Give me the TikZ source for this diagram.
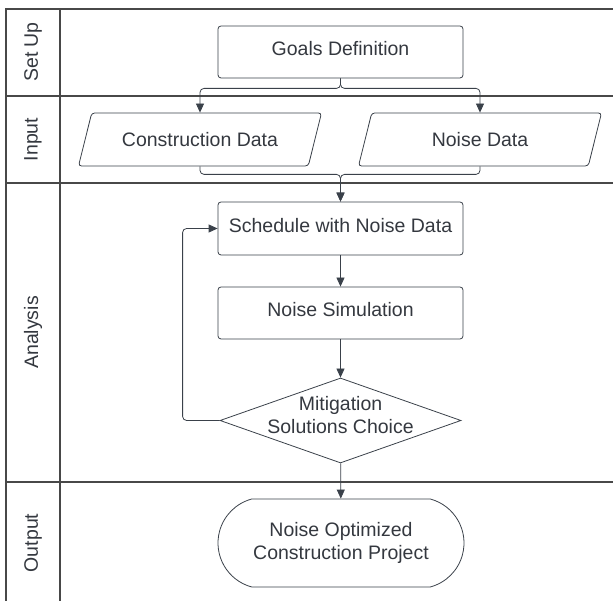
\documentclass[tikz,border=0pt]{standalone}
\usepackage{fontspec}
\setmainfont{Liberation Sans}
\usetikzlibrary{arrows.meta,shapes.geometric,shapes.misc}
\definecolor{edge}{RGB}{58,65,74}
\definecolor{lane}{RGB}{72,72,72}
\definecolor{ink}{RGB}{52,56,63}

\begin{document}
\begin{tikzpicture}[x=1pt,y=1pt,font=\fontsize{19.5}{23}\selectfont,text=ink,
  lanes/.style={draw=lane,line width=1.2pt},
  box/.style={draw=edge,line width=.8pt,rounded corners=3pt,minimum width=245pt,minimum height=52pt,inner sep=0pt,text height=14pt,text depth=6pt},
  data/.style={trapezium,trapezium stretches body=true,trapezium left angle=76,trapezium right angle=104,draw=edge,line width=.8pt,rounded corners=3pt,minimum width=243pt,text height=14pt,text depth=0pt,inner xsep=0pt,inner ysep=19.5pt},
  decision/.style={diamond,draw=edge,line width=.8pt,minimum width=241pt,minimum height=85pt,inner sep=0pt},
  terminal/.style={rounded rectangle,rounded rectangle arc length=150,draw=edge,line width=.8pt,minimum width=246pt,minimum height=88pt,inner sep=0pt,align=center},
  flow/.style={draw=edge,line width=.8pt,rounded corners=4pt,-{Triangle[length=9pt,width=8pt]}}]
\useasboundingbox (0,0) rectangle (613,601);
\draw[lanes] (6,0) -- (6,592) -- (613,592);
\draw[lanes] (60,0) -- (60,592);
\draw[lanes] (6,505) -- (613,505);
\draw[lanes] (6,418) -- (613,418);
\draw[lanes] (6,119) -- (613,119);
\node[rotate=90] (setup) at (33,549) {Set Up};
\node[rotate=90] (input) at (33,461.5) {Input};
\node[rotate=90] (analysis) at (33,268.5) {Analysis};
\node[rotate=90] (output) at (33,58) {Output};

\node[box] (goals) at (340.5,549) {Goals Definition};
\node[data] (cdata) at (200,461.5) {Construction Data};
\node[data] (ndata) at (480,461.5) {Noise Data};
\node[box,minimum height=53pt] (sched) at (340.5,372.5) {Schedule with Noise Data};
\node[box] (sim) at (340.5,288) {Noise Simulation};
\node[decision,label={[align=center,yshift=5pt]center:Mitigation\\Solutions Choice}] (choice) at (340.5,180.5) {};
\node[terminal] (result) at (341,58) {Noise Optimized\\Construction Project};

\draw[flow] (goals.south) -- ++(0,-10) -| (cdata.north);
\draw[flow] (goals.south) -- ++(0,-10) -| (ndata.north);
\draw[flow] (cdata.south) -- ++(0,-8) -| (sched.north);
\draw[flow] (ndata.south) -- ++(0,-8) -| (sched.north);
\draw[flow] (sched) -- (sim);
\draw[flow] (sim) -- (choice);
\draw[flow] (choice.west) -- ++(-37,0) |- (sched.west);
\draw[flow] (choice) -- (result);
\end{tikzpicture}
\end{document}
